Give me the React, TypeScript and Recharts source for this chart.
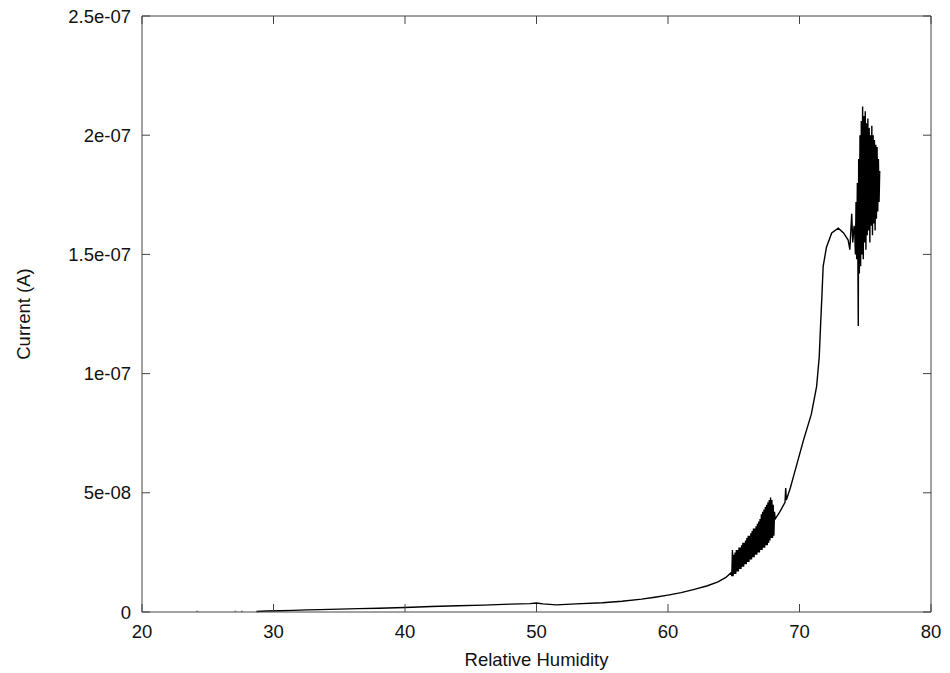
import { LineChart, Line, XAxis, YAxis, Scatter } from "recharts"

// relative humidity (%) and current (nA) along the sweep, in measurement order
const humidity = [
  28.7, 29.5, 30.5, 31.5, 32.5, 33.5, 35, 36.5, 38, 40, 42, 44, 46, 48, 49.5, 50, 50.5, 51.5, 53, 55,
  56.5, 58, 59, 60, 61, 62, 63, 63.8, 64.4, 64.8,
  // noisy stretch around 65-68 %
  64.85, 64.9, 64.95, 65.0, 65.05, 65.1, 65.15, 65.2, 65.25, 65.3, 65.35, 65.4, 65.45, 65.5, 65.55,
  65.6, 65.65, 65.7, 65.75, 65.8, 65.85, 65.9, 65.95, 66.0, 66.05, 66.1, 66.15, 66.2, 66.25, 66.3,
  66.35, 66.4, 66.45, 66.5, 66.55, 66.6, 66.65, 66.7, 66.75, 66.8, 66.85, 66.9, 66.95, 67.0, 67.05,
  67.1, 67.15, 67.2, 67.25, 67.3, 67.35, 67.4, 67.45, 67.5, 67.55, 67.6, 67.65, 67.7, 67.75, 67.8,
  67.85, 67.9, 67.95, 68.0, 68.05, 68.1,
  68.15, 68.5, 68.9, 68.95, 69.0, 69.3, 69.55, 70.3, 70.9, 71.3, 71.5, 71.6, 71.7, 71.8, 72.05, 72.45,
  72.95, 73.35, 73.7, 73.83, 73.97, 74.05, 74.15,
  // noisy stretch above 74 %
  74.2, 74.25, 74.3, 74.35, 74.4, 74.45, 74.47, 74.5, 74.55, 74.6, 74.65, 74.7, 74.75, 74.8, 74.85,
  74.9, 74.95, 75.0, 75.05, 75.1, 75.15, 75.2, 75.25, 75.3, 75.35, 75.4, 75.45, 75.5, 75.55, 75.6,
  75.65, 75.7, 75.75, 75.8, 75.85, 75.9, 75.95, 76.0, 76.05, 76.1,
]

const currentNA = [
  0.2, 0.4, 0.5, 0.7, 0.9, 1.0, 1.2, 1.4, 1.6, 1.9, 2.3, 2.6, 2.9, 3.3, 3.5, 3.8, 3.4, 3.0, 3.4, 3.9,
  4.5, 5.4, 6.2, 7.1, 8.1, 9.5, 11.0, 12.6, 14.5, 16.5,
  15, 26, 15, 24, 16, 25, 16, 26, 17, 26, 17, 27, 18, 27, 18,
  28, 19, 29, 19, 29, 20, 30, 20, 31, 21, 32, 21, 32, 22, 33,
  22, 34, 23, 35, 23, 35, 24, 36, 24, 37, 25, 38, 25, 39, 26,
  41, 26, 42, 27, 43, 27, 44, 28, 45, 28, 46, 29, 47, 30, 48,
  31, 47, 31, 45, 32, 42,
  39, 42, 46, 52, 47, 52, 57, 72, 83, 94.5, 107, 120, 132, 145, 153, 159,
  161, 159, 156, 152, 167, 155, 162,
  160, 150, 172, 148, 180, 138, 120, 190, 142, 200, 145, 206, 150, 212, 148,
  208, 155, 210, 152, 205, 158, 207, 160, 203, 155, 200, 162, 204, 158, 200,
  163, 198, 160, 196, 165, 195, 168, 190, 172, 185,
]

// a few stray readings at low humidity
const strayHumidity = [24.2, 27.1, 27.6]
const strayCurrentNA = [0.3, 0.3, 0.3]

const xTicks = [20, 30, 40, 50, 60, 70, 80]
const yTicks = [0, 50, 100, 150, 200, 250]
const yTickLabels = ["0", "5e-08", "1e-07", "1.5e-07", "2e-07", "2.5e-07"]

const sweep = humidity.map((rh, i) => ({ rh, i: currentNA[i] }))
const stray = strayHumidity.map((rh, i) => ({ rh, i: strayCurrentNA[i] }))

const W = 950
const H = 673
const margin = { top: 16, right: 19, bottom: 0, left: 10 }
const plotTop = margin.top
const plotRight = W - margin.right

const font = "'Liberation Sans', Arial, sans-serif"
const tickStyle = { fontSize: 18.5, fill: "#111", fontFamily: font }
const frame = "#444"
const tickLen = 8
const xGap = 13
const yGap = 11

const Dot = (props: any) => <rect x={props.cx - 1} y={props.cy - 0.5} width={2} height={1} fill="#555" />

// x label plus inward tick marks on the bottom and top edges
const XTick = ({ x, y, payload }: any) => {
  const base = y - xGap
  return (
    <g>
      <line x1={x} x2={x} y1={base} y2={base - tickLen} stroke={frame} />
      <line x1={x} x2={x} y1={plotTop} y2={plotTop + tickLen} stroke={frame} />
      <text x={x} y={y} dy="0.71em" textAnchor="middle" {...tickStyle}>{payload.value}</text>
    </g>
  )
}

// y label plus inward tick marks on the left and right edges
const YTick = ({ x, y, payload }: any) => {
  const base = x + yGap
  return (
    <g>
      <line x1={base} x2={base + tickLen} y1={y} y2={y} stroke={frame} />
      <line x1={plotRight} x2={plotRight - tickLen} y1={y} y2={y} stroke={frame} />
      <text x={x} y={y} dy="0.355em" textAnchor="end" {...tickStyle}>{yTickLabels[yTicks.indexOf(payload.value)]}</text>
    </g>
  )
}

export default function App() {
  return (
    <div style={{ position: "absolute", left: 0, top: 0, background: "#fff" }}>
      <LineChart width={W} height={H} margin={margin}>
        <XAxis
          xAxisId="b"
          type="number"
          dataKey="rh"
          domain={[20, 80]}
          ticks={xTicks}
          interval={0}
          allowDataOverflow
          height={61}
          tickLine={false}
          tickSize={0}
          tickMargin={xGap}
          stroke={frame}
          tick={XTick}
          label={{ value: "Relative Humidity", position: "insideBottom", offset: 7, style: { ...tickStyle, textAnchor: "middle" } }}
        />
        <YAxis
          yAxisId="l"
          type="number"
          domain={[0, 250]}
          ticks={yTicks}
          interval={0}
          width={132}
          tickLine={false}
          tickSize={0}
          tickMargin={yGap}
          stroke={frame}
          tick={YTick}
          label={{ value: "Current (A)", angle: -90, position: "center", dx: -53, style: { ...tickStyle, textAnchor: "middle" } }}
        />
        {/* top and right edges of the frame */}
        <XAxis xAxisId="tm" orientation="top" mirror type="number" domain={[20, 80]}
          height={10} tickLine={false} tick={false} stroke={frame} />
        <YAxis yAxisId="rm" orientation="right" mirror type="number" domain={[0, 250]}
          width={10} tickLine={false} tick={false} stroke={frame} />
        <Scatter
          data={stray}
          xAxisId="b"
          yAxisId="l"
          dataKey="i"
          shape={Dot}
          isAnimationActive={false}
        />
        <Line
          data={sweep}
          xAxisId="b"
          yAxisId="l"
          dataKey="i"
          type="linear"
          stroke="#000"
          strokeWidth={1.4}
          dot={false}
          isAnimationActive={false}
        />
      </LineChart>
    </div>
  )
}
